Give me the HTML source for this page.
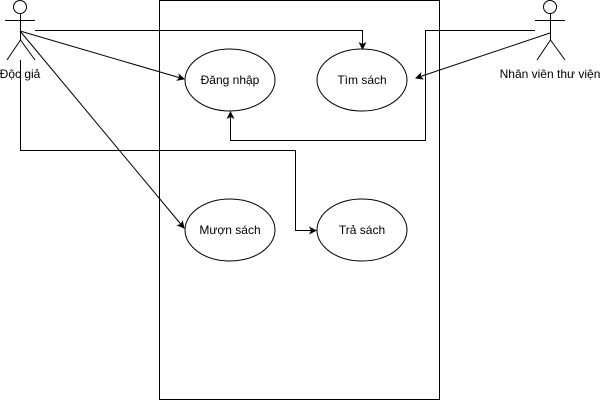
<!DOCTYPE html>
<html><head><style>body{margin:0;background:#fff}svg{display:block}</style></head><body>
<svg width="601" height="401" xmlns="http://www.w3.org/2000/svg" font-family="Liberation Sans, Arial, sans-serif" font-size="12">
<defs><marker id="a" markerWidth="8" markerHeight="8" refX="7" refY="4" orient="auto" markerUnits="userSpaceOnUse"><path d="M0,0 L8,4 L0,8 L2,4 Z" fill="#000"/></marker></defs>
<rect x="159.5" y="0.5" width="280" height="399" fill="#fff" stroke="#000"/>
<g fill="#fff" stroke="#000">
<ellipse cx="230" cy="80" rx="45" ry="31"/>
<ellipse cx="362" cy="80" rx="45" ry="31"/>
<ellipse cx="230" cy="230" rx="45" ry="31"/>
<ellipse cx="362" cy="230" rx="45" ry="31"/>
</g>
<g text-anchor="middle" fill="#000">
<text x="230" y="84">Đăng nhập</text>
<text x="362" y="84">Tìm sách</text>
<text x="230" y="234">Mượn sách</text>
<text x="362" y="234">Trả sách</text>
<text x="20" y="78">Độc giả</text>
<text x="550" y="78">Nhân viên thư viện</text>
</g>
<g fill="none" stroke="#000">
<circle cx="20" cy="7" r="6.5" fill="#fff"/>
<path d="M20.5 13.5V40M5 20.5H35M20.5 40L7 60M20.5 40L35 60"/>
<circle cx="550" cy="7" r="6.5" fill="#fff"/>
<path d="M550.5 13.5V40M535 20.5H565M550.5 40L537 60M550.5 40L565 60"/>
<path d="M35 30.5H362.5V49" marker-end="url(#a)"/>
<path d="M20 31L184 79" marker-end="url(#a)"/>
<path d="M20 31L184 228" marker-end="url(#a)"/>
<path d="M20.5 60V150.5H295.5V230.5H316" marker-end="url(#a)"/>
<path d="M550 33L416 78" marker-end="url(#a)"/>
<path d="M535 30.5H425.5V140.5H230.5V112" marker-end="url(#a)"/>
</g>
</svg>
</body></html>
